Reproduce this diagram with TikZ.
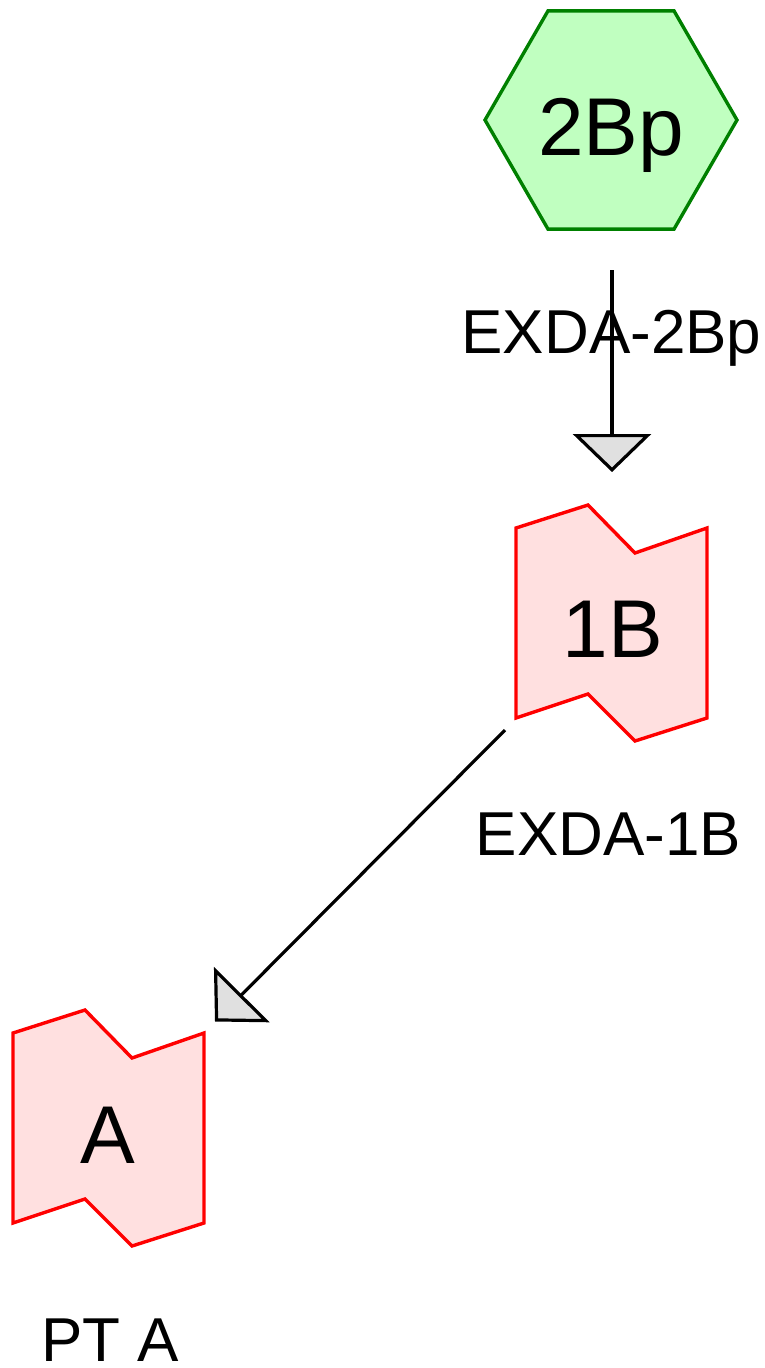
\documentclass[tikz,border=0pt]{standalone}
\usepackage{fontspec}
\setmainfont{Liberation Sans}
\usetikzlibrary{shapes.geometric,arrows.meta,calc}
\definecolor{hexfill}{HTML}{C0FFC0}
\definecolor{hexdraw}{HTML}{008000}
\definecolor{tagfill}{HTML}{FFE0E0}
\definecolor{tagdraw}{HTML}{FF0000}
\definecolor{tipfill}{HTML}{E0E0E0}
\tikzset{
  hexbox/.style={regular polygon, regular polygon sides=6, minimum size=252pt,
    inner sep=0pt, outer sep=0pt, draw=hexdraw, fill=hexfill, line width=3.4pt},
  tagbox/.style={draw=tagdraw, fill=tagfill, line width=3.4pt, line join=miter},
  bigtext/.style={anchor=base, inner sep=0pt, font=\fontsize{82}{90}\selectfont},
  lbltext/.style={anchor=base, inner sep=0pt, font=\fontsize{62}{70}\selectfont},
  arr/.style={line width=3.2pt, -{Triangle[length=38pt,width=78pt,fill=tipfill,line width=3.2pt]}},
  frame/.style={rectangle, minimum width=191pt, minimum height=236pt, inner sep=0pt, outer sep=0pt, draw=none}
}
\newcommand{\tagpath}[2]{%
  \path[tagbox] (#1,#2) -- ++(72,-23) -- ++(47,48) -- ++(72,-25) -- ++(0,190)
    -- ++(-72,23) -- ++(-47,-47) -- ++(-72,24) -- cycle;}
\begin{document}
\begin{tikzpicture}[x=1pt,y=-1pt]
\useasboundingbox (0,0) rectangle (764,1368);
% 2Bp hexagon
\node[hexbox] (n2Bp) at (611,120) {};
\node[bigtext] (t2Bp) at (611,155) {2Bp};
% 1B shape
\tagpath{516}{528}
\node[frame] (n1B) at (611.5,623) {};
\node[bigtext] (t1B) at (613,657) {1B};
% A shape
\tagpath{13}{1033}
\node[frame] (nA) at (107.5,1127.5) {};
\node[bigtext] (tA) at (108,1163) {A};
% labels
\node[lbltext] (l2Bp) at (611.5,353) {EXDA-2Bp};
\node[lbltext] (l1B) at (608.5,855) {EXDA-1B};
\node[lbltext] (lA) at (110,1361) {PT A};
% connectors
\draw[arr] ($(n2Bp.south)+(1,41)$) -- ($(n1B.north)+(0.5,-33)$);
\draw[arr] ($(n1B.south west)+(-11,-11)$) -- ($(nA.north east)+(12,12)$);
\end{tikzpicture}
\end{document}
